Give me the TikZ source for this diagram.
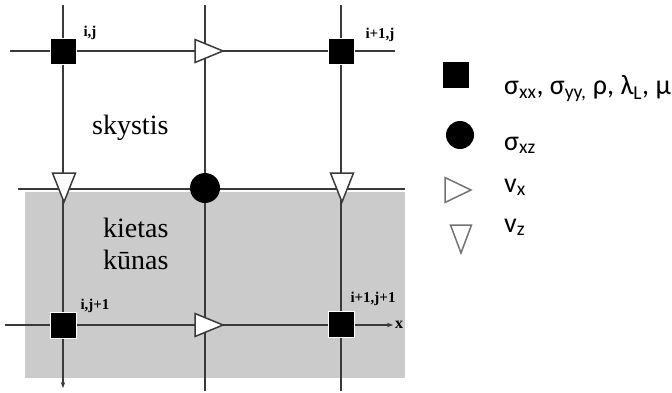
\documentclass[tikz,border=0pt]{standalone}
\usepackage{fontspec}
\setmainfont{Liberation Serif}
\newfontfamily\legendfont{Carlito}
\usetikzlibrary{arrows.meta,shapes.geometric}
\definecolor{solidgray}{HTML}{CBCBCB}
\definecolor{ink}{HTML}{3A3A3A}
\begin{document}
\begin{tikzpicture}[x=1pt,y=-1pt,
  gridline/.style={draw=ink,line width=1.6pt},
  tip/.style={-{Stealth[length=6pt,width=4.5pt]}},
  sqnode/.style={rectangle,fill=black,draw=white,line width=0.8pt,
    minimum size=26pt,inner sep=0pt,outer sep=0pt},
  dotnode/.style={circle,fill=black,inner sep=0pt,outer sep=0pt,minimum size=30pt},
  trinode/.style={isosceles triangle,isosceles triangle stretches,
    fill=white,draw=ink,line width=1.5pt,inner sep=0pt,outer sep=0pt},
  vxnode/.style={trinode,minimum width=23pt,minimum height=28pt},
  vznode/.style={trinode,minimum width=23pt,minimum height=29pt,rotate=-90},
  idx/.style={font=\bfseries\fontsize{15}{15}\selectfont,inner sep=0pt},
  region/.style={font=\fontsize{28}{32}\selectfont,inner sep=0pt,anchor=base west},
  legtext/.style={font=\legendfont\fontsize{28}{30}\selectfont,inner sep=0pt,anchor=base west},
  legtri/.style={trinode,draw=black!55}]
\useasboundingbox (0,0) rectangle (672,393);
\fill[white] (0,0) rectangle (672,393);
% solid half-space
\fill[solidgray] (25,192) rectangle (405,378);

% grid line end points
\coordinate (v1t) at (63,5);   \coordinate (v1b) at (63,388);
\coordinate (v2t) at (205,5);  \coordinate (v2b) at (205,391);
\coordinate (v3t) at (341,5);  \coordinate (v3b) at (341,391);
\coordinate (h1l) at (10,51);  \coordinate (h1r) at (395,51);
\coordinate (h2l) at (18,189); \coordinate (h2r) at (405,189);
\coordinate (h3l) at (5,325);  \coordinate (h3r) at (393,325);

\draw[gridline,tip] (v1t) -- (v1b);
\draw[gridline] (v2t) -- (v2b);
\draw[gridline] (v3t) -- (v3b);
\draw[gridline] (h1l) -- (h1r);
\draw[gridline] (h2l) -- (h2r);
\draw[gridline,tip] (h3l) -- (h3r);
\node[font=\bfseries\fontsize{16}{16}\selectfont,inner sep=0pt] (xlab) at (399,325) {x};

% staggered grid points
\node[sqnode] (p11) at (63,51) {};
\node[sqnode] (p21) at (341,51) {};
\node[sqnode] (p12) at (63,325) {};
\node[sqnode] (p22) at (341,324) {};
\node[vxnode,anchor=apex] (vx1) at (223,51) {};
\node[vxnode,anchor=apex] (vx2) at (223,325) {};
\node[vznode,anchor=apex] (vz1) at (64,202) {};
\node[vznode,anchor=apex] (vz2) at (342,202) {};
\node[dotnode] (sxz) at (205,188) {};

% indices
\node[idx] (l11) at (90,33) {i,j};
\node[idx] (l21) at (380,35) {i+1,j};
\node[idx] (l12) at (95,306) {i,j+1};
\node[idx] (l22) at (373,299) {i+1,j+1};

% media
\node[region] (liquid) at (92,135) {skystis};
\node[region] (solid1) at (103,237) {kietas};
\node[region] (solid2) at (103,269) {kūnas};

% legend
\node[sqnode,draw=none] (k1) at (456,75) {};
\node[dotnode,minimum size=28pt] (k2) at (460,135) {};
\node[legtri,minimum width=25pt,minimum height=26pt,anchor=apex] (k3) at (471,190) {};
\node[legtri,minimum width=21pt,minimum height=28pt,rotate=-90,anchor=apex] (k4) at (461,253) {};
\node[legtext] (t1) at (504,95) {σ\textsubscript{xx}, σ\textsubscript{yy,} ρ, λ\textsubscript{L}, μ};
\node[legtext] (t2) at (504,150) {σ\textsubscript{xz}};
\node[legtext] (t3) at (504,192) {v\textsubscript{x}};
\node[legtext] (t4) at (504,232) {v\textsubscript{z}};
\end{tikzpicture}
\end{document}
